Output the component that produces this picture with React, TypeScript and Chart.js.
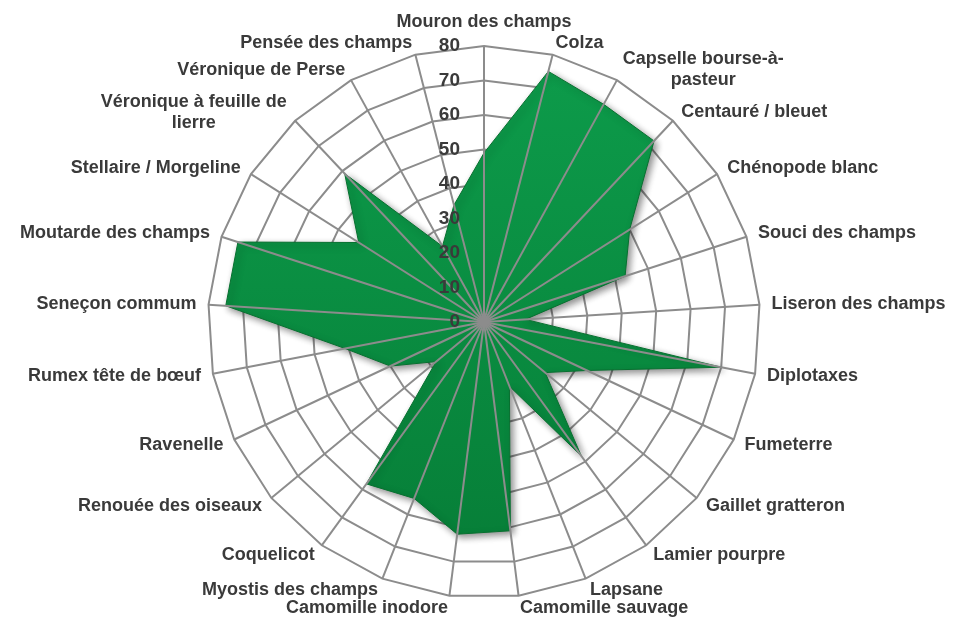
import React, { useEffect, useRef } from 'react';
import { Chart, registerables } from 'chart.js';

Chart.register(...registerables);

const categories: (string | string[])[] = [
  'Mouron des champs',
  'Colza',
  ['Capselle bourse-à-', 'pasteur'],
  'Centauré / bleuet',
  'Chénopode blanc',
  'Souci des champs',
  'Liseron des champs',
  'Diplotaxes',
  'Fumeterre',
  'Gaillet gratteron',
  'Lamier pourpre',
  'Lapsane',
  'Camomille sauvage',
  'Camomille inodore',
  'Myostis des champs',
  'Coquelicot',
  'Renouée des oiseaux',
  'Ravenelle',
  'Rumex tête de bœuf',
  'Seneçon commum',
  'Moutarde des champs',
  'Stellaire / Morgeline',
  ['Véronique à feuille de', 'lierre'],
  'Véronique de Perse',
  'Pensée des champs',
];

const seriesValues = [49, 75, 72, 72, 50, 43, 12, 70, 33, 23, 48, 20, 61, 62, 55, 58, 18, 30, 41, 75, 75, 43, 59, 25, 35];

const tickValues = [0, 10, 20, 30, 40, 50, 60, 70, 80];

const FONT_FAMILY = '"Liberation Sans", Arial, Helvetica, sans-serif';
const TEXT_COLOR = '#3a3a3a';
const GRID_COLOR = '#8c8c8c';

export default function App() {
  const ref = useRef<HTMLCanvasElement>(null);

  useEffect(() => {
    document.body.style.margin = '0';
    const canvas = ref.current;
    if (!canvas) return;

    const overlay = {
      id: 'overlay',
      beforeDatasetsDraw(chart: any) {
        const ctx = chart.ctx;
        ctx.save();
        ctx.shadowColor = 'rgba(0,0,0,0.45)';
        ctx.shadowBlur = 7;
        ctx.shadowOffsetX = 3;
        ctx.shadowOffsetY = 3;
      },
      afterDatasetsDraw(chart: any) {
        const ctx = chart.ctx;
        ctx.restore();
        const scale = chart.scales.r;
        const n = categories.length;
        // spokes drawn over the filled area
        ctx.save();
        ctx.strokeStyle = GRID_COLOR;
        ctx.lineWidth = 2;
        for (let i = 0; i < n; i++) {
          const p = scale.getPointPosition(i, scale.drawingArea);
          ctx.beginPath();
          ctx.moveTo(scale.xCenter, scale.yCenter);
          ctx.lineTo(p.x, p.y);
          ctx.stroke();
        }
        ctx.fillStyle = GRID_COLOR;
        ctx.beginPath();
        ctx.arc(scale.xCenter, scale.yCenter, 5, 0, Math.PI * 2);
        ctx.fill();
        // tick labels
        ctx.font = `700 19px ${FONT_FAMILY}`;
        ctx.fillStyle = TEXT_COLOR;
        ctx.textAlign = 'right';
        ctx.textBaseline = 'middle';
        for (const v of tickValues) {
          const d = scale.getDistanceFromCenterForValue(v);
          ctx.fillText(String(v), scale.xCenter - 24, scale.yCenter - d);
        }
        ctx.restore();
      },
      afterDraw(chart: any) {
        const ctx = chart.ctx;
        const scale = chart.scales.r;
        ctx.save();
        ctx.font = `700 18px ${FONT_FAMILY}`;
        ctx.fillStyle = TEXT_COLOR;
        ctx.textBaseline = 'middle';
        ctx.textAlign = 'center';
        const lineH = 21;
        categories.forEach((label, i) => {
          const angle = scale.getIndexAngle(i);
          const s = Math.sin(angle);
          const c = Math.cos(angle);
          const a = scale.getPointPosition(i, scale.drawingArea + 12);
          const lines = Array.isArray(label) ? label : [label];
          const blockW = Math.max(...lines.map((l) => ctx.measureText(l).width));
          const y0 = a.y - ((lines.length - 1) * lineH) / 2;
          lines.forEach((line, k) => {
            let x: number;
            let y = y0 + k * lineH;
            if (Math.abs(s) < 0.05 && c > 0) {
              x = a.x;
              y -= 12;
            } else if (s > 0) {
              x = a.x + blockW / 2;
            } else {
              x = a.x - blockW / 2;
            }
            ctx.fillText(line, x, y);
          });
        });
        ctx.restore();
      },
    };

    const chart = new Chart(canvas, {
      type: 'radar',
      data: {
        labels: categories as any,
        datasets: [
          {
            data: seriesValues,
            fill: true,
            backgroundColor: (context: any) => {
              const area = context.chart.chartArea;
              if (!area) return '#0a8f40';
              const g = context.chart.ctx.createLinearGradient(0, area.top, 0, area.bottom);
              g.addColorStop(0, '#0d9c4b');
              g.addColorStop(1, '#067c36');
              return g;
            },
            borderColor: '#07702f',
            borderWidth: 1,
            pointRadius: 0,
            pointHoverRadius: 0,
            tension: 0,
          },
        ],
      },
      options: {
        responsive: false,
        animation: false,
        devicePixelRatio: 1,
        layout: { padding: { left: 208, right: 201, top: 46, bottom: 21 } },
        plugins: { legend: { display: false }, tooltip: { enabled: false } },
        scales: {
          r: {
            min: 0,
            max: 80,
            ticks: { stepSize: 10, display: false },
            grid: { circular: false, color: GRID_COLOR, lineWidth: 2 },
            angleLines: { display: false },
            pointLabels: { display: false },
          },
        },
      },
      plugins: [overlay],
    });

    return () => chart.destroy();
  }, []);

  return (
    <div style={{ position: 'absolute', left: 0, top: 0, width: 961, height: 619, background: '#fff' }}>
      <canvas ref={ref} width={961} height={619} style={{ display: 'block' }} />
    </div>
  );
}
